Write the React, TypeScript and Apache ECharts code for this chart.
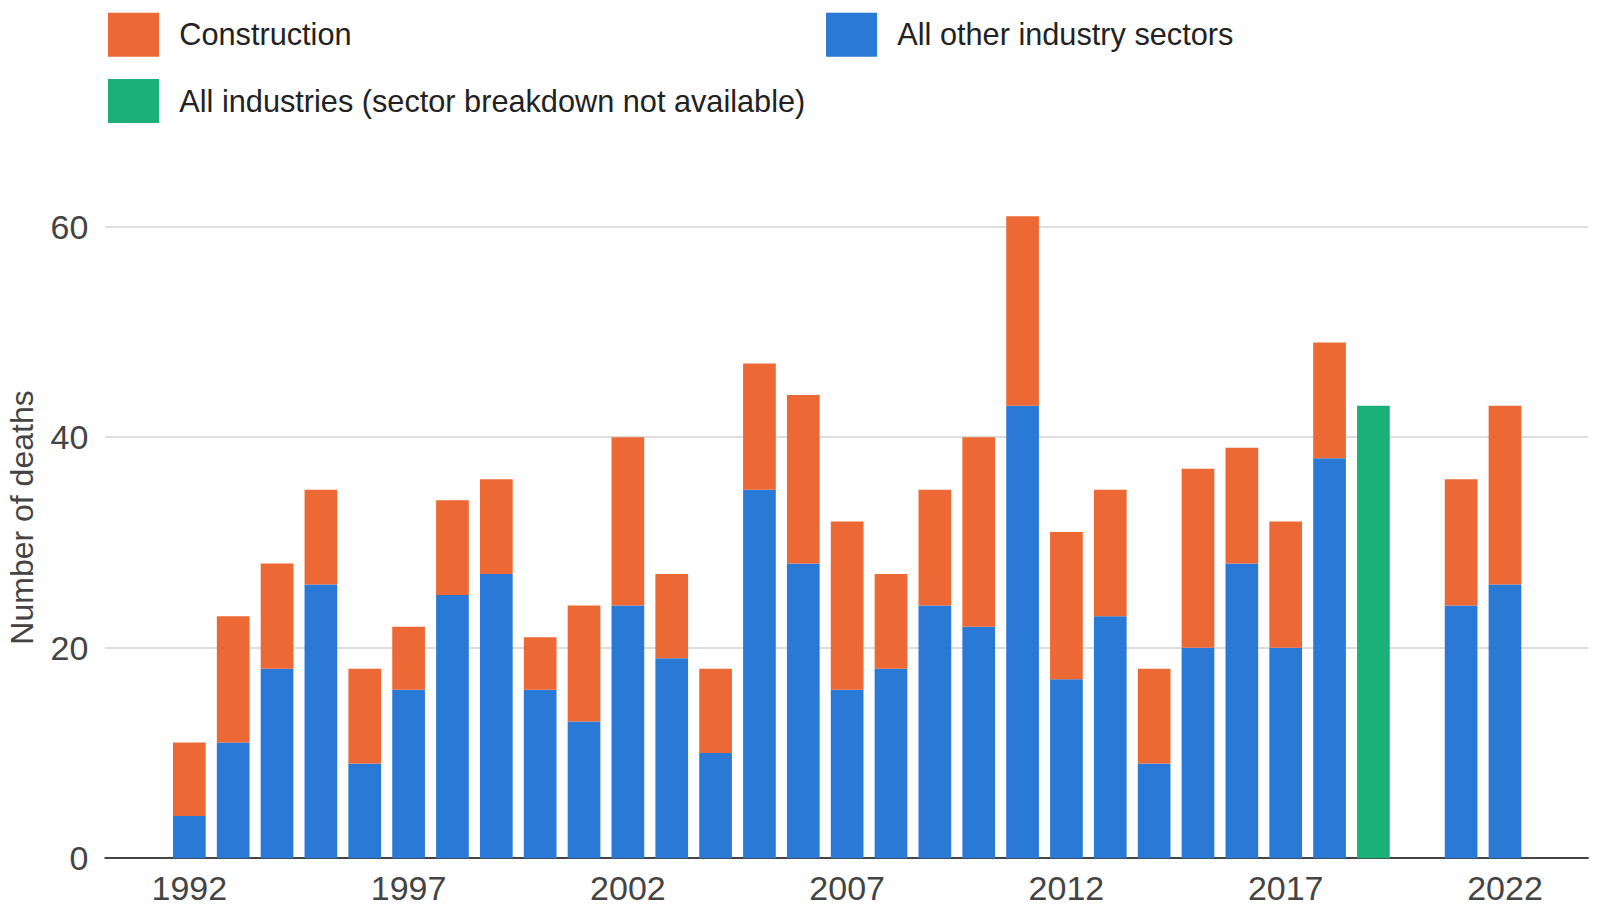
import React, { useEffect, useRef } from "react";
import * as echarts from "echarts";

const years = [
  "1992", "1993", "1994", "1995", "1996", "1997", "1998", "1999", "2000", "2001",
  "2002", "2003", "2004", "2005", "2006", "2007", "2008", "2009", "2010", "2011",
  "2012", "2013", "2014", "2015", "2016", "2017", "2018", "2019", "2020", "2021", "2022",
];

const otherSectors = [
  4, 11, 18, 26, 9, 16, 25, 27, 16, 13,
  24, 19, 10, 35, 28, 16, 18, 24, 22, 43,
  17, 23, 9, 20, 28, 20, 38, null, null, 24, 26,
];

const construction = [
  7, 12, 10, 9, 9, 6, 9, 9, 5, 11,
  16, 8, 8, 12, 16, 16, 9, 11, 18, 18,
  14, 12, 9, 17, 11, 12, 11, null, null, 12, 17,
];

const allIndustries = [
  null, null, null, null, null, null, null, null, null, null,
  null, null, null, null, null, null, null, null, null, null,
  null, null, null, null, null, null, null, 43, null, null, null,
];

const yTicks = [0, 20, 40, 60];

const NAME_OTHER = "All other industry sectors";
const NAME_CONS = "Construction";
const NAME_ALL = "All industries (sector breakdown not available)";

const FONT = "'Liberation Sans', Arial, Helvetica, sans-serif";

export default function App() {
  const ref = useRef<HTMLDivElement>(null);

  useEffect(() => {
    if (!ref.current) return;
    const chart = echarts.init(ref.current, null, { renderer: "svg" });

    const gridTop = 226.7;
    const gridBottom = 919 - 858.2;
    const legendCommon = {
      orient: "horizontal",
      itemWidth: 51,
      itemHeight: 44,
      padding: 0,
      icon: "rect",
      selectedMode: false,
      textStyle: {
        fontFamily: FONT,
        fontSize: 30.7,
        color: "#222222",
        padding: [2.8, 0, 0, 15.3],
      },
    };

    chart.setOption({
      animation: false,
      backgroundColor: "#ffffff",
      textStyle: { fontFamily: FONT },
      legend: [
        { ...legendCommon, left: 108, top: 12.7, data: [NAME_CONS] },
        { ...legendCommon, left: 826, top: 12.7, data: [NAME_OTHER] },
        { ...legendCommon, left: 108, top: 79, data: [NAME_ALL] },
      ],
      grid: [
        { left: 105.3, right: 12, top: gridTop, bottom: gridBottom },
        { left: 167.4, right: 1600 - 1526.9, top: gridTop, bottom: gridBottom },
      ],
      xAxis: [
        {
          type: "value",
          gridIndex: 0,
          min: 0,
          max: 1,
          axisLine: { show: true, lineStyle: { color: "#444444", width: 2 } },
          axisTick: { show: false },
          axisLabel: { show: false },
          splitLine: { show: false },
        },
        {
          type: "category",
          gridIndex: 1,
          data: years,
          axisLine: { show: false },
          axisTick: { show: false },
          axisLabel: {
            interval: 4,
            fontSize: 34,
            fontFamily: FONT,
            color: "#444444",
            margin: 13,
          },
        },
      ],
      yAxis: [
        {
          type: "value",
          gridIndex: 0,
          min: yTicks[0],
          max: yTicks[yTicks.length - 1],
          interval: 20,
          axisLine: { show: false },
          axisTick: { show: false },
          axisLabel: {
            fontSize: 34,
            fontFamily: FONT,
            color: "#444444",
            margin: 17,
          },
          splitLine: { show: true, lineStyle: { color: "#dddddd", width: 2 } },
        },
        {
          type: "value",
          gridIndex: 1,
          min: yTicks[0],
          max: yTicks[yTicks.length - 1],
          interval: 20,
          show: false,
          splitLine: { show: false },
        },
      ],
      series: [
        {
          name: NAME_OTHER,
          type: "bar",
          xAxisIndex: 1,
          yAxisIndex: 1,
          stack: "total",
          barWidth: 32.7,
          clip: false,
          itemStyle: { color: "#2a79d6" },
          data: otherSectors,
        },
        {
          name: NAME_CONS,
          type: "bar",
          xAxisIndex: 1,
          yAxisIndex: 1,
          stack: "total",
          barWidth: 32.7,
          clip: false,
          itemStyle: { color: "#ec6936" },
          data: construction,
        },
        {
          name: NAME_ALL,
          type: "bar",
          xAxisIndex: 1,
          yAxisIndex: 1,
          stack: "total",
          barWidth: 32.7,
          clip: false,
          itemStyle: { color: "#1bb07a" },
          data: allIndustries,
        },
      ],
      graphic: [
        {
          type: "text",
          x: 22.2,
          y: 517.5,
          rotation: Math.PI / 2,
          style: {
            text: "Number of deaths",
            fontFamily: FONT,
            fontSize: 32,
            fill: "#444444",
            align: "center",
            verticalAlign: "middle",
          },
        },
      ],
    });

    return () => {
      chart.dispose();
    };
  }, []);

  return (
    <div
      ref={ref}
      style={{ position: "absolute", left: 0, top: 0, width: 1600, height: 919 }}
    />
  );
}
